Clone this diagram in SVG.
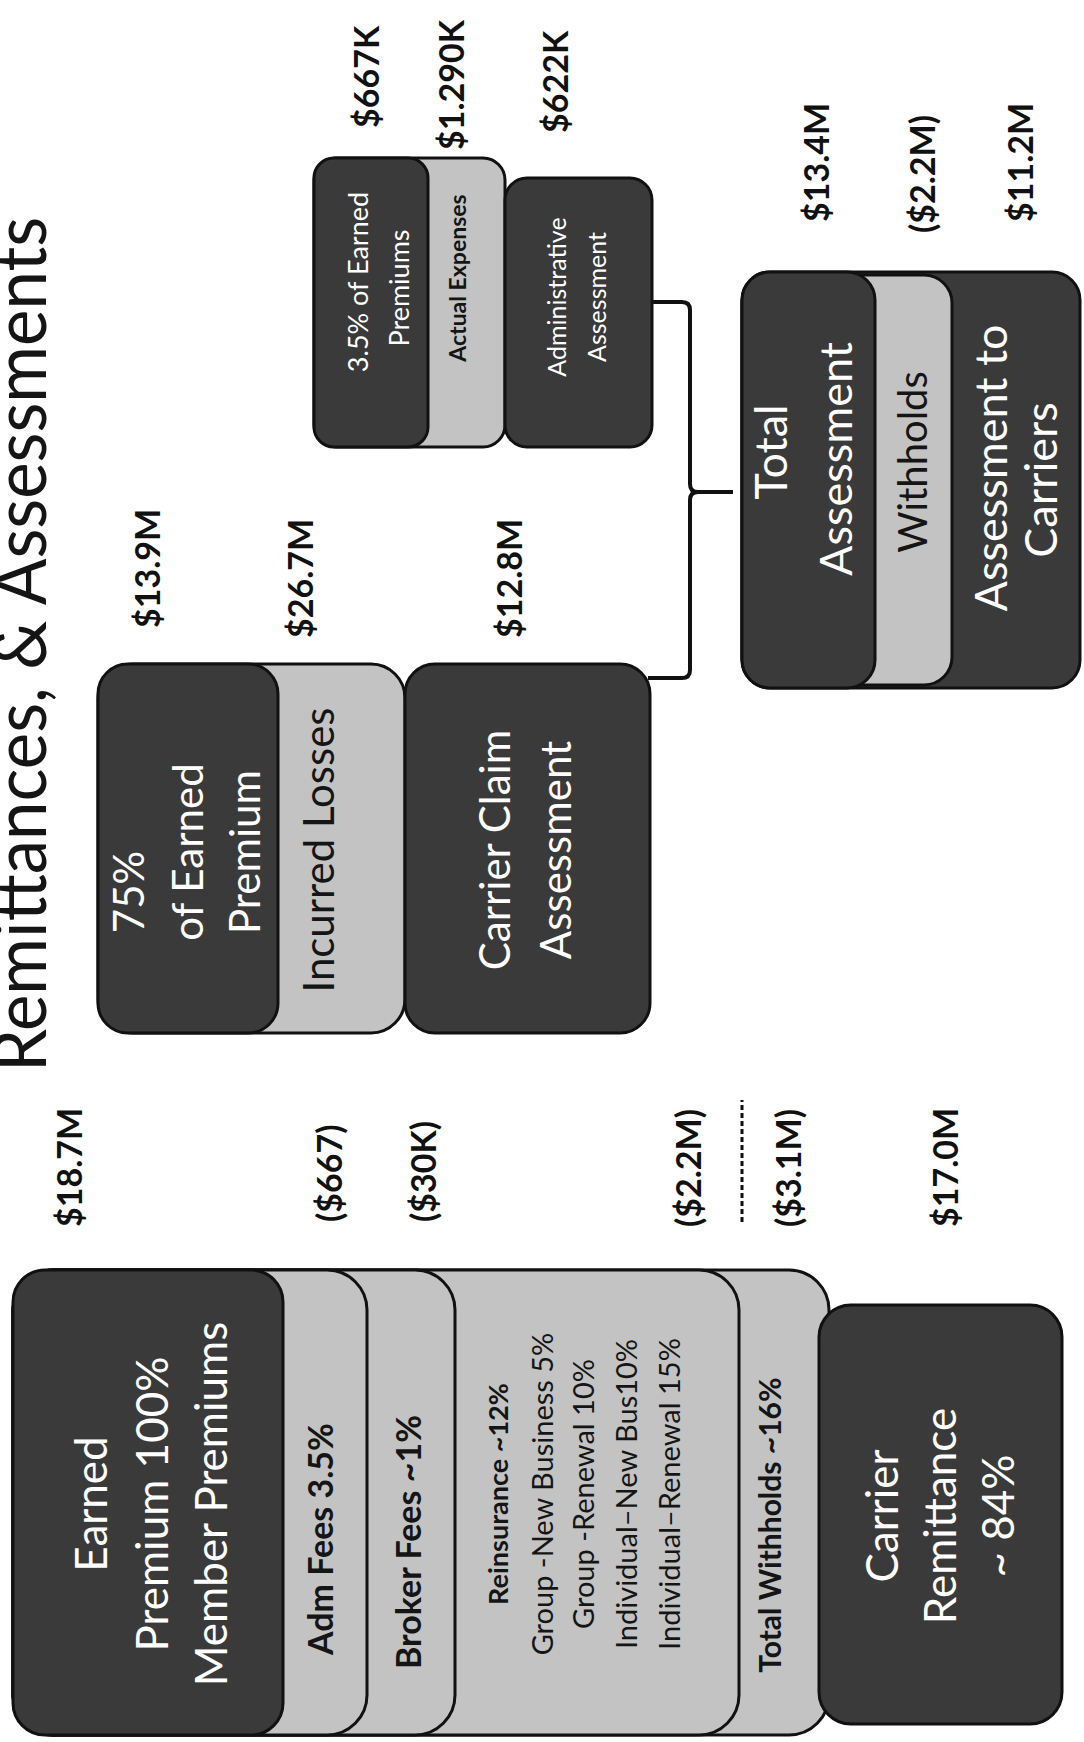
<svg xmlns="http://www.w3.org/2000/svg" width="1084" height="1742" viewBox="0 0 1084 1742">
<style>
.dk{fill:#3a3a3a;stroke:#111;stroke-width:3}
.lt{fill:#c3c3c3;stroke:#111;stroke-width:3}
text{font-family:Lato,"Liberation Sans",sans-serif}
.w{fill:#fff}
.k{fill:#151515}
.b{font-weight:bold}
.val{font-weight:bold;font-size:34px;fill:#111}
.c{text-anchor:middle}
</style>
<rect width="1084" height="1742" fill="#fff"/>
<g transform="translate(0,1742) rotate(-90)">
  <g id="title"><text x="670" y="46" font-size="74" class="k" textLength="855" lengthAdjust="spacingAndGlyphs">Remittances, &amp; Assessments</text></g>

  <g id="total-withholds"><rect class="lt" x="7" y="13" width="465" height="816" rx="40"/>
    <text class="k b c" x="217" y="781" font-size="30">Total Withholds ~16%</text></g>
  <g id="reinsurance"><rect class="lt" x="7" y="13" width="465" height="726" rx="40"/>
    <g class="k c" font-size="29">
      <text class="b" x="248" y="508" font-size="27">Reinsurance ~12%</text>
      <text x="248" y="553">Group -New Business 5%</text>
      <text x="248" y="594">Group -Renewal 10%</text>
      <text x="248" y="637">Individual–New Bus10%</text>
      <text x="248" y="680">Individual–Renewal 15%</text>
    </g></g>
  <g id="broker-fees"><rect class="lt" x="7" y="13" width="465" height="442" rx="40"/>
    <text class="k b c" x="200" y="421" font-size="34">Broker Fees ~1%</text></g>
  <g id="adm-fees"><rect class="lt" x="7" y="13" width="465" height="354" rx="40"/>
    <text class="k b c" x="203" y="333" font-size="34">Adm Fees 3.5%</text></g>
  <g id="earned-premium"><rect class="dk" x="7" y="13" width="465" height="270" rx="32"/>
    <g class="w c" font-size="44">
      <text x="238" y="107">Earned</text>
      <text x="238" y="168">Premium 100%</text>
      <text x="238" y="227">Member Premiums</text>
    </g></g>
  <g id="carrier-remittance"><rect class="dk" x="18" y="819" width="419" height="243" rx="32"/>
    <g class="w c" font-size="44">
      <text x="226" y="898">Carrier</text>
      <text x="226" y="956">Remittance</text>
      <text x="226" y="1014">~ 84%</text>
    </g></g>

  <g id="incurred-losses"><rect class="lt" x="709" y="98" width="369" height="307" rx="34"/>
    <text class="k c" x="892" y="334" font-size="42">Incurred Losses</text></g>
  <g id="earned-75"><rect class="dk" x="709" y="98" width="369" height="180" rx="30"/>
    <g class="w c" font-size="42">
      <text x="850" y="144">75%</text>
      <text x="890" y="203">of Earned</text>
      <text x="890" y="260">Premium</text>
    </g></g>
  <g id="carrier-claim-assessment"><rect class="dk" x="709" y="405" width="369" height="245" rx="30"/>
    <g class="w c" font-size="42">
      <text x="892" y="510">Carrier  Claim</text>
      <text x="892" y="571">Assessment</text>
    </g></g>

  <g id="actual-expenses"><rect class="lt" x="1295" y="314" width="289" height="191" rx="22"/>
    <text class="k b c" x="1464" y="466" font-size="23">Actual Expenses</text></g>
  <g id="earned-35"><rect class="dk" x="1295" y="314" width="289" height="114" rx="20"/>
    <g class="w c" font-size="27">
      <text x="1460" y="368">3.5% of Earned</text>
      <text x="1454" y="409">Premiums</text>
    </g></g>
  <g id="administrative-assessment"><rect class="dk" x="1295" y="505" width="269" height="147" rx="22"/>
    <g class="w c" font-size="25">
      <text x="1445" y="566">Administrative</text>
      <text x="1445" y="606">Assessment</text>
    </g></g>

  <g id="assessment-to-carriers"><rect class="dk" x="1054" y="742" width="416" height="338" rx="28"/>
    <g class="w c" font-size="45">
      <text x="1274" y="1007">Assessment to</text>
      <text x="1262" y="1057">Carriers</text>
    </g></g>
  <g id="withholds"><rect class="lt" x="1057" y="742" width="410" height="210" rx="28"/>
    <text class="k c" x="1280" y="927" font-size="40">Withholds</text></g>
  <g id="total-assessment"><rect class="dk" x="1054" y="742" width="416" height="133" rx="28"/>
    <g class="w c" font-size="45">
      <text x="1290" y="787">Total</text>
      <text x="1283" y="852">Assessment</text>
    </g></g>

  <g id="connectors" fill="none" stroke="#111" stroke-width="4">
    <path d="M1440 652 L1440 682 Q1440 690 1432 690 L1258 690 Q1250 690 1250 698 L1250 733 M1250 698 Q1250 690 1242 690 L1072 690 Q1064 690 1064 682 L1064 648"/>
    <path d="M520 742 H642" stroke-width="3" stroke-dasharray="5 3"/>
  </g>

  <g id="values" class="val">
    <text x="515" y="82">$18.7M</text>
    <text x="520" y="342">($667)</text>
    <text x="520" y="436">($30K)</text>
    <text x="515" y="701">($2.2M)</text>
    <text x="515" y="801">($3.1M)</text>
    <text x="515" y="958">$17.0M</text>
    <text x="1114" y="160">$13.9M</text>
    <text x="1104" y="313">$26.7M</text>
    <text x="1104" y="522">$12.8M</text>
    <text x="1614" y="379">$667K</text>
    <text x="1592" y="464">$1.290K</text>
    <text x="1609" y="568">$622K</text>
    <text x="1520" y="829">$13.4M</text>
    <text x="1509" y="935">($2.2M)</text>
    <text x="1520" y="1033">$11.2M</text>
  </g>
</g>
</svg>
